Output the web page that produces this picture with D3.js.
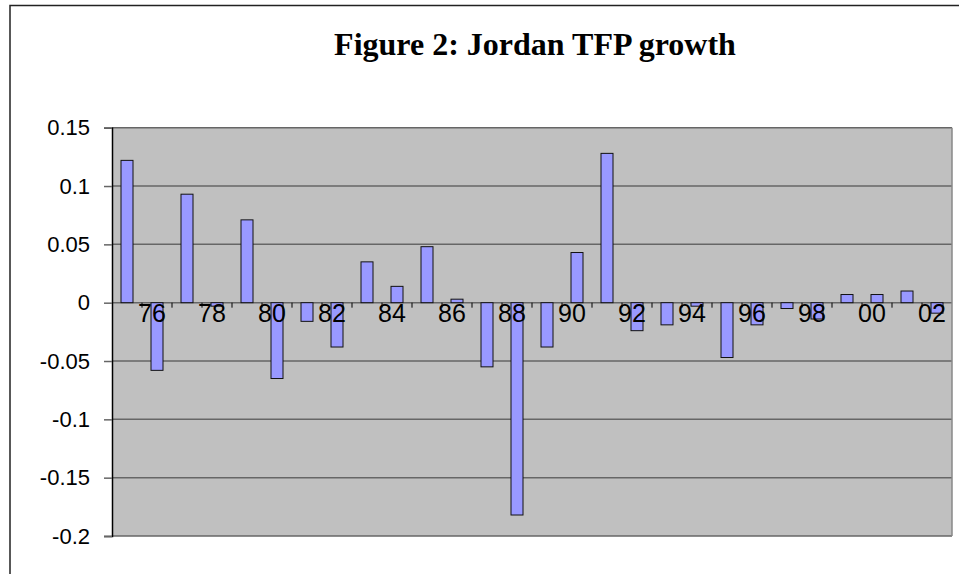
<!DOCTYPE html>
<html>
<head>
<meta charset="utf-8">
<script src="https://cdn.jsdelivr.net/npm/d3@7"></script>
<style>
  body { margin: 0; background: #fff; }
  svg { display: block; }
</style>
</head>
<body>
<script>
// data
const years = [1975, 1976, 1977, 1978, 1979, 1980, 1981, 1982, 1983, 1984,
               1985, 1986, 1987, 1988, 1989, 1990, 1991, 1992, 1993, 1994,
               1995, 1996, 1997, 1998, 1999, 2000, 2001, 2002];
const tfpGrowth = [0.122, -0.058, 0.093, -0.003, 0.071, -0.065, -0.016, -0.038, 0.035, 0.014,
                   0.048, 0.003, -0.055, -0.182, -0.038, 0.043, 0.128, -0.024, -0.019, -0.003,
                   -0.047, -0.019, -0.005, -0.014, 0.007, 0.007, 0.010, -0.009];
const yTicks = [0.15, 0.1, 0.05, 0, -0.05, -0.1, -0.15, -0.2];
const xLabelYears = years.filter((d, i) => i % 2 === 1);

const dataset = years.map((y, i) => ({ year: y, value: tfpGrowth[i] }));

const w = 959;
const h = 574;
const plotLeft = 112, plotRight = 952, plotTop = 127.7, plotBottom = 536;

const svg = d3.select("body")
  .append("svg")
  .attr("width", w)
  .attr("height", h);

// outer chart border
svg.append("rect")
  .attr("x", 10)
  .attr("y", 5.5)
  .attr("width", 1000)
  .attr("height", 1000)
  .attr("fill", "#fff")
  .attr("stroke", "#222")
  .attr("stroke-width", 1.5);

svg.append("text")
  .attr("x", 535)
  .attr("y", 55)
  .attr("text-anchor", "middle")
  .attr("font-family", "'Liberation Serif', 'Times New Roman', serif")
  .attr("font-weight", "bold")
  .attr("font-size", 32)
  .text("Figure 2: Jordan TFP growth");

const xScale = d3.scaleBand()
  .domain(years)
  .range([plotLeft, plotRight])
  .paddingInner(0.6)
  .paddingOuter(0.3);

const yScale = d3.scaleLinear()
  .domain([-0.2, 0.15])
  .range([plotBottom, plotTop]);

// plot area
svg.append("rect")
  .attr("x", plotLeft)
  .attr("y", plotTop)
  .attr("width", plotRight - plotLeft)
  .attr("height", plotBottom - plotTop)
  .attr("fill", "#c0c0c0");

// gridlines
svg.selectAll("line.grid")
  .data(yTicks)
  .enter()
  .append("line")
  .attr("class", "grid")
  .attr("x1", plotLeft)
  .attr("x2", plotRight)
  .attr("y1", d => yScale(d))
  .attr("y2", d => yScale(d))
  .attr("stroke", "#666")
  .attr("stroke-width", 1.5);

// right edge of plot
svg.append("line")
  .attr("x1", plotRight).attr("x2", plotRight)
  .attr("y1", plotTop).attr("y2", plotBottom)
  .attr("stroke", "#888")
  .attr("stroke-width", 1.5);

// bars
svg.selectAll("rect.bar")
  .data(dataset)
  .enter()
  .append("rect")
  .attr("class", "bar")
  .attr("x", d => xScale(d.year))
  .attr("y", d => yScale(Math.max(0, d.value)))
  .attr("width", xScale.bandwidth())
  .attr("height", d => Math.abs(yScale(d.value) - yScale(0)))
  .attr("fill", "#9999ff")
  .attr("stroke", "#111")
  .attr("stroke-width", 1);

// y axis
const yAxis = d3.axisLeft(yScale)
  .tickValues(yTicks)
  .tickSize(8)
  .tickPadding(14)
  .tickFormat(d => String(+d.toFixed(2)));

const gy = svg.append("g")
  .attr("transform", `translate(${plotLeft}, 0)`)
  .call(yAxis);
gy.select(".domain").attr("stroke", "#000").attr("stroke-width", 1.5);
gy.selectAll(".tick line").attr("stroke", "#666").attr("stroke-width", 1.5);
gy.selectAll("text")
  .attr("font-family", "'Liberation Sans', Arial, sans-serif")
  .attr("font-size", 22)
  .attr("fill", "#000");

// x axis on the zero line: tick marks between categories
const zeroY = yScale(0);
const step = xScale.step();
const boundaries = years.slice(1).map(y => xScale(y) - step * xScale.paddingInner() / 2);

svg.selectAll("line.xtick")
  .data(boundaries)
  .enter()
  .append("line")
  .attr("class", "xtick")
  .attr("x1", d => d)
  .attr("x2", d => d)
  .attr("y1", zeroY)
  .attr("y2", zeroY + 5)
  .attr("stroke", "#000")
  .attr("stroke-width", 1);

svg.selectAll("text.xlab")
  .data(xLabelYears)
  .enter()
  .append("text")
  .attr("class", "xlab")
  .attr("x", d => xScale(d) + xScale.bandwidth() / 2 - 5)
  .attr("y", zeroY + 19.5)
  .attr("text-anchor", "middle")
  .attr("font-family", "'Liberation Sans', Arial, sans-serif")
  .attr("font-size", 25)
  .attr("fill", "#000")
  .text(d => String(d % 100).padStart(2, "0"));
</script>
</body>
</html>
